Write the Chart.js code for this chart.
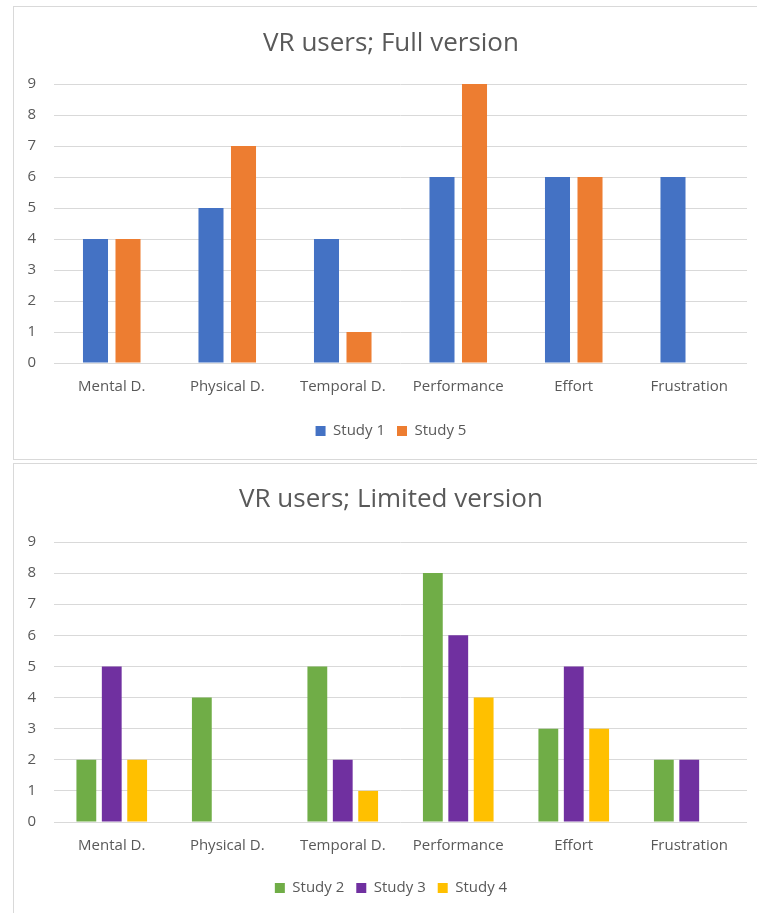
<!DOCTYPE html>
<html>
<head>
<meta charset="utf-8">
<script src="https://cdn.jsdelivr.net/npm/chart.js@4.4.1/dist/chart.umd.min.js"></script>
<style>
  html, body { margin: 0; padding: 0; background: #ffffff; width: 757px; height: 913px; overflow: hidden; }
  .box { position: absolute; border: 1px solid #d9d9d9; background: #fff; box-sizing: border-box; }
  #box1 { left: 13px; top: 6px; width: 760px; height: 454px; }
  #box2 { left: 13px; top: 463px; width: 760px; height: 460px; }
  canvas { position: absolute; }
  #c1 { left: 14px; top: 7px; }
  #c2 { left: 14px; top: 464px; }
</style>
</head>
<body>
<div class="box" id="box1"></div>
<div class="box" id="box2"></div>
<canvas id="c1" width="754" height="452" style="width:754px;height:452px"></canvas>
<canvas id="c2" width="754" height="449" style="width:754px;height:449px"></canvas>
<script>
const categories = ["Mental D.", "Physical D.", "Temporal D.", "Performance", "Effort", "Frustration"];
const yTicks = [0, 1, 2, 3, 4, 5, 6, 7, 8, 9];

const title1 = "VR users; Full version";
const study1 = [4, 5, 4, 6, 6, 6];
const study5 = [4, 7, 1, 9, 6, 0];

const title2 = "VR users; Limited version";
const study2 = [2, 4, 5, 8, 3, 2];
const study3 = [5, 0, 2, 6, 5, 2];
const study4 = [2, 0, 1, 4, 3, 0];

const FONT = "'Open Sans', 'Noto Sans', sans-serif";
const TXT = "#595959";
const GRID = "#d9d9d9";

function makeChart(id, title, datasets, catPct, barPct, lay) {
  return new Chart(document.getElementById(id), {
    type: 'bar',
    data: { labels: categories, datasets: datasets },
    options: {
      responsive: false,
      animation: false,
      devicePixelRatio: 1,
      layout: { padding: { left: 0, right: 0, top: 0, bottom: lay.bottomPad } },
      datasets: { bar: { categoryPercentage: catPct, barPercentage: barPct } },
      plugins: {
        title: {
          display: true, text: title, color: TXT,
          font: { family: FONT, size: 26, weight: 'normal' },
          padding: { top: lay.titleTop, bottom: lay.titleBottom }
        },
        legend: {
          position: 'bottom',
          labels: {
            color: TXT, font: { family: FONT, size: 15 },
            boxWidth: 10, boxHeight: 10, padding: 12
          }
        },
        tooltip: { enabled: false }
      },
      scales: {
        x: {
          grid: { display: false },
          border: { display: false },
          ticks: { color: TXT, font: { family: FONT, size: 15 }, padding: 7, maxRotation: 0 },
          afterFit: s => { s.height = lay.xH; }
        },
        y: {
          min: 0, max: 9,
          afterBuildTicks: s => { s.ticks = yTicks.map(v => ({ value: v })); },
          grid: { color: GRID, drawTicks: false, lineWidth: 1 },
          border: { display: false },
          ticks: { color: TXT, font: { family: FONT, size: 15 }, padding: 18 },
          afterFit: s => { s.width = 40; }
        },
        yRightSpace: {
          position: 'right', min: 0, max: 9,
          grid: { display: false, drawTicks: false },
          border: { display: false },
          ticks: { display: false },
          afterFit: s => { s.width = 21; }
        }
      }
    }
  });
}

makeChart('c1', title1, [
  { label: 'Study 1', data: study1, backgroundColor: '#4472C4' },
  { label: 'Study 5', data: study5, backgroundColor: '#ED7D31' }
], 0.563, 0.77, { bottomPad: 10.5, titleTop: 21.4, titleBottom: 24.4, xH: 48.5 });

makeChart('c2', title2, [
  { label: 'Study 2', data: study2, backgroundColor: '#70AD47' },
  { label: 'Study 3', data: study3, backgroundColor: '#7030A0' },
  { label: 'Study 4', data: study4, backgroundColor: '#FFC000' }
], 0.66, 0.78, { bottomPad: 7.5, titleTop: 20.4, titleBottom: 26.4, xH: 46.5 });
</script>
</body>
</html>
